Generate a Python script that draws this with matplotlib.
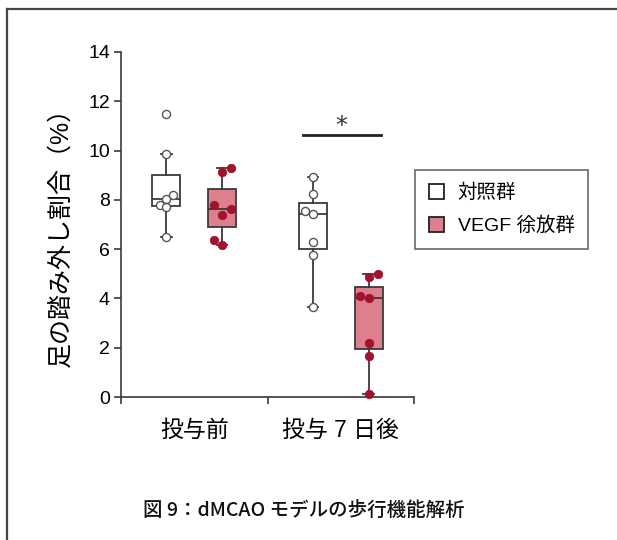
import numpy as np
import matplotlib.pyplot as plt
from matplotlib.lines import Line2D
from matplotlib.patches import Patch

plt.rcParams['font.family'] = ['Liberation Sans', 'Noto Sans CJK JP']

groups = ["投与前", "投与 7 日後"]
series_names = ["対照群", "VEGF 徐放群"]

# misstep rate (%) per animal
control_pre = [11.5, 9.85, 8.2, 8.05, 7.8, 7.7, 6.5]
vegf_pre = [9.3, 9.12, 7.8, 7.64, 7.4, 6.38, 6.18]
control_post = [8.92, 8.25, 7.53, 7.43, 6.27, 5.76, 3.66]
vegf_post = [4.99, 4.85, 4.1, 4.0, 2.2, 1.67, 0.12]

# horizontal spread of the dots so they don't overlap
jitter_control_pre = [0, 0, 0.048, 0, -0.042, 0, 0]
jitter_vegf_pre = [0.06, 0, -0.057, 0.06, 0, -0.057, 0]
jitter_control_post = [0, 0, -0.055, 0, 0, 0, 0]
jitter_vegf_post = [0.065, 0, -0.06, 0, 0, 0, 0]

sig_text = "*"

pink = "#dd7f8d"
dot_red = "#a1122c"
edge = "#3a3a3a"

fig = plt.figure(figsize=(6.17, 5.40), dpi=100)
ax = fig.add_axes([121 / 617, 1 - 397 / 540, 293 / 617, 345 / 540])

offset = 0.19
data = [control_pre, vegf_pre, control_post, vegf_post]
jitters = [jitter_control_pre, jitter_vegf_pre, jitter_control_post, jitter_vegf_post]
positions = [0.5 - offset, 0.5 + offset, 1.5 - offset, 1.5 + offset]
fills = ["white", pink, "white", pink]

bp = ax.boxplot(data, positions=positions, widths=0.19, whis=1.5,
                showfliers=False, patch_artist=True,
                boxprops=dict(edgecolor=edge, linewidth=1.3),
                medianprops=dict(color=edge, linewidth=1.3),
                whiskerprops=dict(color=edge, linewidth=1.3),
                capprops=dict(color=edge, linewidth=1.3),
                capwidths=0.07)
for patch, fc in zip(bp["boxes"], fills):
    patch.set_facecolor(fc)

for vals, jit, pos, fc in zip(data, jitters, positions, fills):
    xs = pos + np.array(jit)
    if fc == "white":
        ax.scatter(xs, vals, s=34, facecolor="white", edgecolor="#555555",
                   linewidth=1.0, zorder=4, clip_on=False)
    else:
        ax.scatter(xs, vals, s=38, facecolor=dot_red, edgecolor=dot_red,
                   linewidth=0.5, zorder=4, clip_on=False)

# significance bar
ax.plot([1.24, 1.775], [10.65, 10.65], color="#222222", linewidth=2.0)
ax.text(1.5, 10.98, sig_text, ha="center", va="center", fontsize=17,
        color="#333333", family=["DejaVu Sans"])

ax.set_xlim(0, 2)
ax.set_ylim(0, 14)
ax.set_yticks(np.arange(0, 15, 2))
ax.set_xticks([0, 1, 2])
ax.set_xticklabels([])
ax.set_xticks([0.5, 1.5], minor=True)
ax.set_xticklabels(groups, minor=True, fontsize=16.5)
ax.tick_params(axis="x", which="minor", length=0, pad=16)
ax.tick_params(axis="x", which="major", length=5, color=edge, width=1.2)
ax.tick_params(axis="y", length=5, color=edge, width=1.2, labelsize=14, pad=3)
for side in ["top", "right"]:
    ax.spines[side].set_visible(False)
for side in ["left", "bottom"]:
    ax.spines[side].set_color(edge)
    ax.spines[side].set_linewidth(1.2)

ax.set_ylabel("足の踏み外し割合（%）", fontsize=18)
ax.yaxis.set_label_coords(-0.165, 0.48)

handles = [Patch(facecolor="white", edgecolor="#222222", linewidth=1.3),
           Patch(facecolor=pink, edgecolor="#222222", linewidth=1.3)]
leg = fig.legend(handles, series_names, loc="upper left",
                 bbox_to_anchor=(415 / 617, 1 - 170 / 540), borderaxespad=0,
                 fontsize=14, frameon=True, fancybox=False,
                 handlelength=0.8, handleheight=0.8, handletextpad=0.7,
                 borderpad=0.7, labelspacing=0.75)
leg.get_frame().set_edgecolor("#444444")
leg.get_frame().set_linewidth(1.2)

fig.text(0.493, 1 - 510 / 540, "図 9：dMCAO モデルの歩行機能解析", ha="center", va="center",
         fontsize=14, family=["Noto Sans CJK JP"], fontweight="medium", color="#111111")

# outer frame: top and left edges
fig.add_artist(Line2D([6.5 / 617, 1], [1 - 8.5 / 540, 1 - 8.5 / 540],
                      transform=fig.transFigure, color="#454545", linewidth=1.6))
fig.add_artist(Line2D([6.5 / 617, 6.5 / 617], [0, 1 - 8.5 / 540],
                      transform=fig.transFigure, color="#454545", linewidth=1.6))

fig.savefig("out.png", dpi=100)
